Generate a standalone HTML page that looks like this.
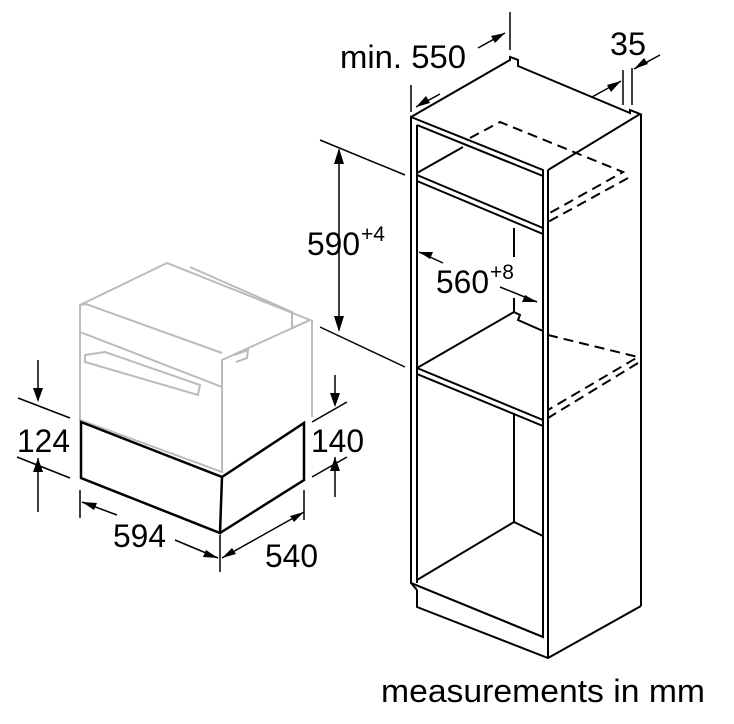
<!DOCTYPE html>
<html><head><style>
html,body{margin:0;padding:0;background:#fff;}
svg{display:block;}
text{font-family:"Liberation Sans",sans-serif;fill:#000;}
</style></head><body>
<svg width="734" height="724" viewBox="0 0 734 724" xmlns="http://www.w3.org/2000/svg">
<g fill="none" stroke="#000" stroke-width="2" stroke-linejoin="miter">
<!-- cabinet -->
<polygon points="411,117 543,170 543,637 411,583"/>
<polyline points="417,125 543,176"/>
<line x1="417" y1="125" x2="417" y2="583"/>
<line x1="548" y1="170" x2="548" y2="658"/>
<polyline points="411,117 510,60 510,57 518,60 518,66 630,113 630,110 640,114 548,170"/>
<line x1="641" y1="114" x2="641" y2="606"/>
<!-- shelf 1 -->
<line x1="417" y1="175" x2="543" y2="228"/>
<line x1="417" y1="181" x2="543" y2="234"/>
<line x1="417" y1="173" x2="463" y2="147"/>
<line x1="514" y1="228" x2="514" y2="257"/>
<line x1="514" y1="298" x2="514" y2="312"/>
<!-- shelf 2 -->
<line x1="417" y1="368" x2="543" y2="420"/>
<line x1="417" y1="374" x2="543" y2="426"/>
<polyline points="417,368 514,312 520,315 518,320 543,331"/>
<line x1="514" y1="413" x2="514" y2="522"/>
<polyline points="417,580 514,522 543,536"/>
<!-- plinth -->
<polyline points="417,590 417,607 548,658 641,606"/>
<line x1="411" y1="583" x2="543" y2="637"/>
<line x1="411" y1="583" x2="417" y2="590"/>
</g>
<g fill="none" stroke="#000" stroke-width="2" stroke-dasharray="10,6">
<polyline points="470,138 500,122 623,172 548,214"/>
<line x1="628" y1="178" x2="548" y2="222"/>
<polyline points="548,335 638,357 548,410"/>
<line x1="638" y1="363" x2="548" y2="418"/>
</g>
<!-- oven gray -->
<g fill="none" stroke="#bbb" stroke-width="2">
<polygon points="80,305 167,263 310,320 222,360 222,472 80,420"/>
<polyline points="80,305 86,304 222,353"/>
<line x1="80" y1="332" x2="222" y2="387"/>
<line x1="312" y1="320" x2="312" y2="417"/>
<polyline points="190,267 292,312 292,328 310,320"/>
<polygon points="85,355 105,352 200,385 198,395 85,362"/>
<polyline points="234,355 248,350 247,358 236,362"/>
</g>
<!-- drawer -->
<g fill="none" stroke="#000" stroke-width="2.5">
<polygon points="81,422 222,477 220,533 81,478"/>
<polyline points="222,477 304,423 304,480 220,533"/>
</g>
<!-- dimension lines -->
<g stroke="#000" stroke-width="1.5" fill="none">
<line x1="411" y1="85" x2="411" y2="112"/><line x1="510" y1="12" x2="510" y2="50"/>
<line x1="440" y1="94" x2="416" y2="107"/><line x1="478" y1="48" x2="505" y2="33"/>
<line x1="623" y1="70" x2="623" y2="105"/><line x1="632" y1="68" x2="632" y2="105"/>
<line x1="592" y1="97" x2="621" y2="81"/><line x1="660" y1="55" x2="634" y2="69"/>
<line x1="320" y1="140" x2="405" y2="175"/><line x1="320" y1="327" x2="405" y2="367"/>
<line x1="339" y1="150" x2="339" y2="330"/>
<line x1="443" y1="263" x2="419" y2="252"/><line x1="500" y1="287" x2="537" y2="302"/>
<line x1="18" y1="398" x2="70" y2="418"/><line x1="17" y1="457" x2="70" y2="478"/>
<line x1="38" y1="360" x2="38" y2="400"/><line x1="38" y1="458" x2="38" y2="512"/>
<line x1="312" y1="422" x2="347" y2="402"/><line x1="312" y1="477" x2="347" y2="457"/>
<line x1="335" y1="375" x2="335" y2="405"/><line x1="335" y1="457" x2="335" y2="497"/>
<line x1="80" y1="490" x2="80" y2="518"/><line x1="220" y1="535" x2="220" y2="572"/>
<line x1="304" y1="490" x2="304" y2="520"/>
<line x1="82" y1="502" x2="117" y2="515"/><line x1="175" y1="540" x2="218" y2="558"/>
<line x1="222" y1="558" x2="304" y2="512"/>
</g>
<g fill="#000">
<polygon points="416,107 426,96 430,103"/>
<polygon points="505,33 491,36 495,43"/>
<polygon points="621,81 607,85 611,92"/>
<polygon points="634,69 648,64 644,58"/>
<polygon points="339,148 334,164 344,164"/>
<polygon points="339,332 334,316 344,316"/>
<polygon points="419,252 433,252 430,259"/>
<polygon points="537,302 522,302 525,295"/>
<polygon points="38,402 33,388 43,388"/>
<polygon points="38,458 33,472 43,472"/>
<polygon points="335,407 330,393 340,393"/>
<polygon points="335,457 330,471 340,471"/>
<polygon points="82,502 97,503 94,510"/>
<polygon points="218,558 203,557 206,550"/>
<polygon points="222,558 232,548 236,554"/>
<polygon points="304,512 294,522 290,516"/>
</g>
<g font-size="32">
<text x="340" y="68" textLength="126" lengthAdjust="spacingAndGlyphs">min. 550</text>
<text x="610" y="55" textLength="36" lengthAdjust="spacingAndGlyphs">35</text>
<text x="307" y="255" textLength="53" lengthAdjust="spacingAndGlyphs">590</text>
<text x="361" y="241" font-size="21">+4</text>
<text x="436" y="293" textLength="53" lengthAdjust="spacingAndGlyphs">560</text>
<text x="490" y="279" font-size="21">+8</text>
<text x="17" y="452" textLength="53" lengthAdjust="spacingAndGlyphs">124</text>
<text x="311" y="452" textLength="53" lengthAdjust="spacingAndGlyphs">140</text>
<text x="113" y="547" textLength="53" lengthAdjust="spacingAndGlyphs">594</text>
<text x="265" y="567" textLength="53" lengthAdjust="spacingAndGlyphs">540</text>
<text x="381" y="702" textLength="324" lengthAdjust="spacingAndGlyphs">measurements in mm</text>
</g>
</svg>
</body></html>
